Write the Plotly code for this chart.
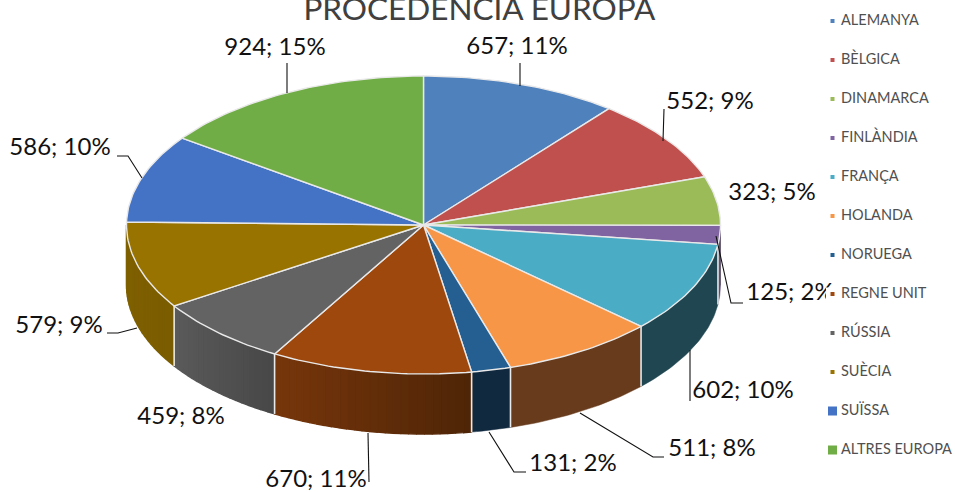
import numpy as np
import plotly.graph_objects as go

categories = ["ALEMANYA", "BÈLGICA", "DINAMARCA", "FINLÀNDIA", "FRANÇA", "HOLANDA",
              "NORUEGA", "REGNE UNIT", "RÚSSIA", "SUÈCIA", "SUÏSSA", "ALTRES EUROPA"]
values = [657, 552, 323, 125, 602, 511, 131, 670, 459, 579, 586, 924]
top_colors = ["#4f81bd", "#c0504d", "#9bbb59", "#8064a2", "#4bacc6", "#f79646",
              "#255e91", "#9e480e", "#636363", "#997300", "#4472c4", "#70ad47"]
# wall shading (left edge, right edge) as seen on the front of the pie
wall_left = ["#3b5f8c", "#8f3c3a", "#748c43", "#604b7a", "#1f4651", "#673b1c",
             "#10293f", "#77360b", "#5a5a5a", "#7f6000", "#335593", "#547f35"]
wall_right = ["#3b5f8c", "#8f3c3a", "#748c43", "#604b7a", "#1f4651", "#673b1c",
              "#10293f", "#4e2507", "#474747", "#7a5c00", "#335593", "#547f35"]

# layout of the drawing
CX, CY, RX, RY, DEPTH = 423.5, 225, 297, 149, 60
label_xy = [(517, 48), (710, 103), (772, 194), (790, 294), (743, 392), (712, 450),
            (573, 465), (316, 481), (181, 418), (59, 327), (60, 149), (275, 49)]
leaders = [[(520, 63), (520, 86)],
           [(664, 109), (663, 141)],
           [(716, 236), (731, 303), (743, 303)],
           [(690, 350), (690, 401)],
           [(580, 413), (653, 457), (664, 457)],
           [(489, 432), (514, 472), (526, 472)],
           [(368, 433), (369, 482)],
           [(107, 333), (118, 333), (137, 328)],
           [(117, 156), (128, 156), (142, 178)],
           [(287, 63), (287, 93)]]
LEG_Y0, LEG_DY, LEG_MX, LEG_TX = 21, 39, 832.5, 841
EDGE = "#e9e9e9"


def pt(deg):
    a = np.radians(deg)
    return CX + RX * np.sin(a), CY - RY * np.cos(a)


def mix(c1, c2, t):
    a = [int(c1[i:i + 2], 16) for i in (1, 3, 5)]
    b = [int(c2[i:i + 2], 16) for i in (1, 3, 5)]
    return "#%02x%02x%02x" % tuple(round(p + (q - p) * t) for p, q in zip(a, b))


total = sum(values)
edges = np.concatenate([[0], np.cumsum(values)]) * 360 / total
fig = go.Figure()

# front walls; shaded walls are drawn in bands that overlap slightly
for i in range(len(values)):
    lo, hi = max(edges[i], 90), min(edges[i + 1], 270)
    if lo >= hi:
        continue
    flat = wall_left[i] == wall_right[i]
    steps = 1 if flat else max(2, int((hi - lo) / 1.5))
    grid = np.linspace(lo, hi, steps + 1)
    xl, xr = pt(hi)[0], pt(lo)[0]
    for a, b in zip(grid[:-1], grid[1:]):
        th = np.linspace(a, b, max(5, int(b - a) + 2))
        x, y = pt(th)
        xs = list(x) + list(x[::-1]) + [x[0]]
        ys = list(y + DEPTH) + list(y[::-1]) + [y[0] + DEPTH]
        t = (x.mean() - xl) / max(xr - xl, 1)
        col = mix(wall_left[i], wall_right[i], float(t))
        fig.add_trace(go.Scatter(x=xs, y=ys, mode="lines", fill="toself", fillcolor=col,
                                 line=dict(color=col, width=1.4 if not flat else 0.5),
                                 hoverinfo="skip", showlegend=False))

# separators on the walls
for e in edges[1:-1]:
    if 92 < e < 268:
        x, y = pt(e)
        fig.add_trace(go.Scatter(x=[x, x], y=[y, y + DEPTH], mode="lines",
                                 line=dict(color=EDGE, width=1.6), hoverinfo="skip", showlegend=False))

# top faces
for i, name in enumerate(categories):
    th = np.linspace(edges[i], edges[i + 1], max(8, int(edges[i + 1] - edges[i])))
    x, y = pt(th)
    xs = [CX] + list(x) + [CX]
    ys = [CY] + list(y) + [CY]
    fig.add_trace(go.Scatter(x=xs, y=ys, mode="lines", fill="toself", fillcolor=top_colors[i],
                             line=dict(color=EDGE, width=1.4), name=name,
                             hovertemplate=f"{name}: {values[i]}<extra></extra>", showlegend=False))

# leader lines
for path in leaders:
    fig.add_trace(go.Scatter(x=[p[0] for p in path], y=[p[1] for p in path], mode="lines",
                             line=dict(color="#111111", width=1.1), hoverinfo="skip", showlegend=False))

# data labels
labels = [f"{v}; {round(100 * v / total)}%" for v in values]
fig.add_trace(go.Scatter(x=[p[0] for p in label_xy], y=[p[1] for p in label_xy], mode="text",
                         text=labels, textposition="middle center", cliponaxis=False,
                         textfont=dict(family="Lato, sans-serif", size=24, color="#111111"),
                         hoverinfo="skip", showlegend=False))

# legend, placed by hand so its rows can follow the reference spacing
leg_y = [LEG_Y0 + LEG_DY * i for i in range(len(categories))]
sizes = [5] * 10 + [10, 10]
fig.add_trace(go.Scatter(x=[LEG_MX], y=[leg_y[7]], mode="markers",
                         marker=dict(symbol="square", size=13, color="white"),
                         hoverinfo="skip", showlegend=False))
fig.add_trace(go.Scatter(x=[LEG_MX] * len(categories), y=leg_y, mode="markers",
                         marker=dict(symbol="square", size=sizes, color=top_colors, opacity=1),
                         hoverinfo="skip", showlegend=False))
fig.add_trace(go.Scatter(x=[LEG_TX] * len(categories), y=leg_y, mode="text", text=categories,
                         textposition="middle right", cliponaxis=False,
                         textfont=dict(family="Lato, sans-serif", size=14.5, color="#505050"),
                         hoverinfo="skip", showlegend=False))

fig.update_layout(
    width=955, height=492, margin=dict(l=0, r=0, t=0, b=0),
    paper_bgcolor="white", plot_bgcolor="white", showlegend=False,
    title=dict(text="PROCEDÈNCIA EUROPA", x=0.502, xanchor="center", y=0.982, yanchor="middle",
               font=dict(family="Lato, sans-serif", size=31.5, color="#404040")),
    xaxis=dict(range=[0, 955], visible=False, fixedrange=True),
    yaxis=dict(range=[492, 0], visible=False, fixedrange=True),
)
fig.write_html("out.html", config={"displayModeBar": False},
               post_script="document.body.style.margin='0';document.body.style.overflow='hidden';")
